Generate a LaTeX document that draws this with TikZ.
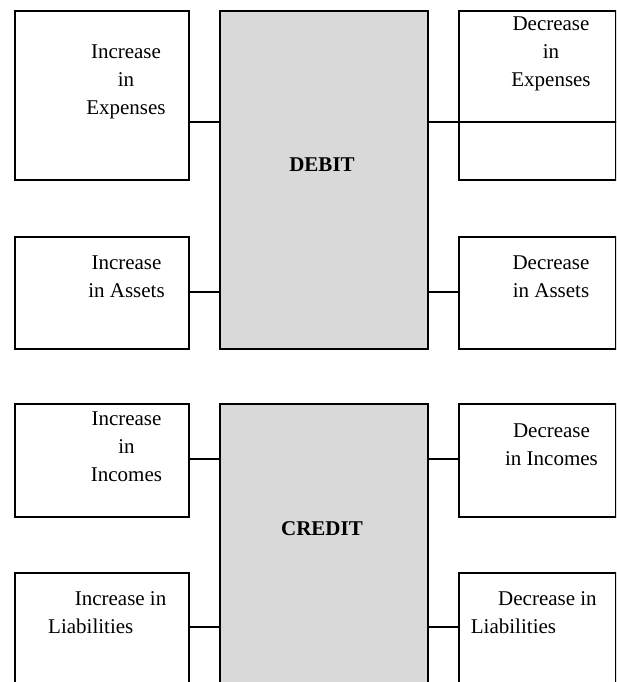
\documentclass[tikz,border=0pt]{standalone}
\usepackage{fontspec}
\setmainfont{Liberation Serif}
\definecolor{maingray}{RGB}{217,217,217}
\begin{document}
\begin{tikzpicture}[x=1pt,y=-1pt,
    sidebox/.style={draw, line width=1.9pt, inner sep=0pt, anchor=north west},
    mainbox/.style={sidebox, fill=maingray},
    txt/.style={font=\fontsize{21}{28}\selectfont, align=center, inner sep=0pt}]
    \useasboundingbox (0,0) rectangle (616,682);
    \clip (0,0) rectangle (616,682);

    % Boxes, debit side
    \node[sidebox, minimum width=174pt, minimum height=169pt] (incExp) at (14,10) {};
    \node[mainbox, minimum width=208pt, minimum height=338pt] (debit) at (219,10) {};
    \node[sidebox, minimum width=157pt, minimum height=169pt] (decExp) at (458,10) {};
    \node[sidebox, minimum width=174pt, minimum height=112pt] (incAst) at (14,236) {};
    \node[sidebox, minimum width=157pt, minimum height=112pt] (decAst) at (458,236) {};

    % Boxes, credit side
    \node[sidebox, minimum width=174pt, minimum height=113pt] (incInc) at (14,403) {};
    \node[mainbox, minimum width=208pt, minimum height=320pt] (credit) at (219,403) {};
    \node[sidebox, minimum width=157pt, minimum height=113pt] (decInc) at (458,403) {};
    \node[sidebox, minimum width=174pt, minimum height=140pt] (incLia) at (14,572) {};
    \node[sidebox, minimum width=157pt, minimum height=140pt] (decLia) at (458,572) {};

    % Connectors
    \draw[line width=1.9pt] (incExp.east |- 0,122) -- (debit.west |- 0,122);
    \draw[line width=1.9pt] (debit.east |- 0,122) -- (decExp.east |- 0,122);
    \draw[line width=1.9pt] (incAst.east |- 0,292) -- (debit.west |- 0,292);
    \draw[line width=1.9pt] (debit.east |- 0,292) -- (decAst.west |- 0,292);
    \draw[line width=1.9pt] (incInc.east |- 0,459) -- (credit.west |- 0,459);
    \draw[line width=1.9pt] (credit.east |- 0,459) -- (decInc.west |- 0,459);
    \draw[line width=1.9pt] (incLia.east |- 0,627) -- (credit.west |- 0,627);
    \draw[line width=1.9pt] (credit.east |- 0,627) -- (decLia.west |- 0,627);

    % Labels
    \node[txt] (tIncExp) at (126,82) {Increase\\in\\Expenses};
    \node[txt] (tDecExp) at (551,54) {Decrease\\in\\Expenses};
    \node[txt, font=\fontsize{21}{28}\selectfont\bfseries] (tDebit) at (322,165) {DEBIT};
    \node[txt] (tIncAst) at (126.5,277) {Increase\\in Assets};
    \node[txt] (tDecAst) at (551,277) {Decrease\\in Assets};
    \node[txt] (tIncInc) at (126.5,447) {Increase\\in\\Incomes};
    \node[txt] (tDecInc) at (551.5,445) {Decrease\\in Incomes};
    \node[txt, font=\fontsize{21}{28}\selectfont\bfseries] (tCredit) at (322,529) {CREDIT};
    \node[txt, align=left, anchor=west] (tIncLia) at (48,613) {\hspace*{26.6pt}Increase in\\Liabilities};
    \node[txt, align=left, anchor=west] (tDecLia) at (470.7,613) {\hspace*{27.3pt}Decrease in\\Liabilities};
\end{tikzpicture}
\end{document}
